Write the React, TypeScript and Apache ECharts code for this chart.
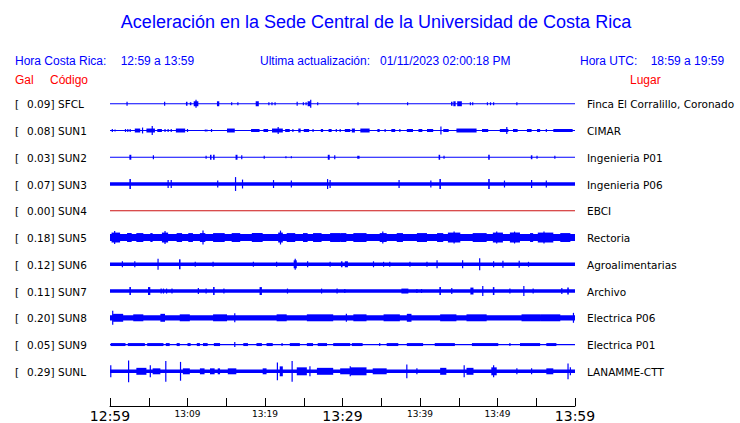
import React, { useEffect, useRef } from 'react';
import * as echarts from 'echarts';

const titleText = 'Aceleración en la Sede Central de la Universidad de Costa Rica';
const headerLabels = ['Hora Costa Rica:', '12:59 a 13:59', 'Ultima actualización:', '01/11/2023 02:00:18 PM', 'Hora UTC:', '18:59 a 19:59'];
const columnHeads = ['Gal', 'Código', 'Lugar'];
const stationCodes = ['SFCL', 'SUN1', 'SUN2', 'SUN3', 'SUN4', 'SUN5', 'SUN6', 'SUN7', 'SUN8', 'SUN9', 'SUNL'];
const galValues = [0.09, 0.08, 0.03, 0.07, 0.0, 0.18, 0.12, 0.11, 0.2, 0.05, 0.29];
const placeNames = ['Finca El Corralillo, Coronado', 'CIMAR', 'Ingenieria P01', 'Ingenieria P06', 'EBCI', 'Rectoria', 'Agroalimentarias', 'Archivo', 'Electrica P06', 'Electrica P01', 'LANAMME-CTT'];
const tickLabels = ['12:59', '13:09', '13:19', '13:29', '13:39', '13:49', '13:59'];

// background (noise) half-amplitude of each trace
const baseAmp = [0.6, 0.6, 0.6, 1.8, 0.5, 3.6, 1.8, 1.8, 2.6, 0.6, 1.8];

// bursts: [start minute, end minute, half-amplitude]
const sfclBursts = [[2.2,2.2,2],[7.0,7.1,2],[9.8,10.0,2],[10.3,10.5,1.5],[10.8,11.4,2.5],[11.1,11.1,4],[13.8,14.1,2.5],[15.7,15.7,1.5],[16.5,16.5,1.5],[18.8,19.2,2.5],[20.5,20.5,1.5],[20.9,20.9,1.5],[21.3,21.3,1.5],[24.1,24.2,2],[24.9,25.0,1.5],[25.3,25.3,1.5],[25.5,25.9,2.5],[25.9,25.9,4],[26.8,26.8,1.5],[32.0,32.0,1.5],[38.4,38.4,1.5],[44.0,44.2,2],[44.3,44.6,2.5],[44.8,45.4,2.5],[46.5,46.5,1.5],[46.8,46.8,1.5],[48.7,48.7,1.5],[49.1,49.1,1.5],[49.5,49.5,1.5],[52.5,52.5,1.5]];
const sun1Bursts = [[0.3,0.3,1.5],[0.65,0.65,1],[2.0,2.0,1.5],[2.3,2.3,1.5],[2.6,2.6,1.5],[3.2,3.9,2],[4.2,4.2,3],[4.7,5.8,2],[5.45,5.45,4.5],[6.1,6.7,1.5],[7.1,7.1,1.5],[7.5,7.5,1.5],[7.9,7.9,1.5],[8.5,9.7,2],[10.0,10.0,1.5],[12.3,12.3,1],[12.5,12.5,1],[13.1,13.1,1.5],[15.1,16.1,2],[18.2,19.3,1.5],[19.8,20.4,1.5],[20.9,22.3,2],[21.7,21.7,3.5],[22.6,23.2,1.5],[23.6,23.6,1.5],[24.3,24.6,2],[25.0,25.7,1.5],[26.2,26.2,1.5],[27.2,27.5,1.5],[28.2,28.6,1.5],[29.2,29.2,1.5],[29.7,29.7,1.5],[30.3,31.0,1.5],[31.2,31.6,2],[32.3,33.5,2],[34.5,34.8,1.5],[35.5,35.5,1.5],[36.3,36.8,1.5],[37.4,37.4,1.5],[38.3,39.1,1.5],[39.8,40.3,1.5],[40.9,41.7,1.5],[42.7,42.7,4],[43.0,43.7,1.5],[44.7,47.3,2],[48.0,48.8,1.5],[50.3,51.4,1.5],[51.2,51.2,3.5],[52.0,52.6,1.5],[53.8,54.4,1.5],[55.1,55.5,1.5],[56.3,56.3,1.5],[57.2,59.7,1.5]];
const sun2Bursts = [[2.5,2.75,2.5],[5.6,5.6,2],[12.4,12.4,1.5],[12.9,13.1,2.5],[13.3,13.5,2.5],[16.2,16.45,2.5],[17.0,17.0,2],[19.9,19.9,1.5],[22.7,22.7,1],[23.4,23.4,1],[28.1,28.35,2.5],[29.0,29.0,2],[31.9,32.2,1.5],[42.4,42.6,2.5],[43.1,43.1,1.5],[48.8,49.0,2.5],[54.3,54.5,2],[55.1,55.1,1.5],[57.4,57.4,1.5]];
const sun3Bursts = [[2.5,2.7,5],[7.5,7.5,4],[7.9,7.9,4],[13.9,13.9,3.5],[16.2,16.2,7],[17.1,17.1,4.5],[21.1,21.1,4],[23.4,23.4,3.5],[28.0,28.15,5],[28.4,28.4,4],[37.3,37.3,4],[41.4,41.4,3.5],[42.5,42.7,5],[48.8,49.0,5],[50.9,50.9,3.5],[54.4,54.4,4],[56.3,56.3,3.5]];
const sun4Bursts: number[][] = [];
const sun5Bursts = [[0.2,1.3,5],[0.6,0.6,6.5],[2.2,2.8,4.5],[3.4,4.3,4.5],[5.2,5.5,4.5],[6.7,7.5,5],[7.1,7.1,6.5],[8.6,9.3,4.5],[10.1,10.7,4.5],[11.6,12.3,4.5],[12.0,12.0,7],[13.3,14.8,4.5],[15.7,16.8,4.5],[18.3,19.7,4.5],[21.7,22.3,5],[22.0,22.0,7],[22.8,23.9,4.5],[24.9,25.5,4.5],[26.2,27.3,4.5],[28.4,29.7,4.5],[29.7,30.5,4.5],[31.4,33.1,4.5],[34.8,35.7,4.5],[35.2,35.2,6],[37.0,37.8,4.5],[39.6,40.9,4.5],[42.2,43.0,4.5],[43.6,45.2,5],[44.4,44.4,6],[46.8,48.6,4.5],[49.4,50.7,5],[49.9,49.9,6],[51.6,52.9,5],[52.2,52.2,6],[54.2,54.6,4.5],[55.2,57.2,5],[56.0,56.0,6],[58.1,59.4,4.5]];
const sun6Bursts = [[1.6,1.6,3],[3.2,3.2,3],[6.2,6.2,5.5],[8.9,9.1,5],[11.0,11.0,2.5],[13.3,13.3,2.5],[18.5,18.5,2.5],[21.5,21.5,2.5],[23.7,24.1,4],[23.9,23.9,5.5],[25.5,25.5,3],[28.4,28.4,2.5],[29.8,30.0,3],[30.3,30.7,3],[34.0,34.0,3],[35.3,35.3,2.5],[36.1,36.1,2.5],[38.7,38.7,2.5],[40.9,40.9,2.5],[42.2,42.2,4],[45.5,45.5,4],[47.7,47.7,6],[49.5,49.5,3],[50.7,50.7,3.5],[52.8,52.8,3.5],[54.0,54.0,2.5]];
const sun7Bursts = [[2.5,2.7,4],[4.9,5.2,4],[6.6,6.6,2.5],[6.9,6.9,2.5],[7.3,7.3,2.5],[8.0,8.0,2.5],[11.4,11.4,3],[12.4,12.4,2.5],[13.3,13.5,4],[14.7,14.7,2.5],[19.3,19.6,4],[22.9,22.9,2.5],[27.3,27.3,2.5],[29.3,29.3,2.5],[30.3,30.3,2],[37.6,38.5,2.5],[39.6,39.6,2],[40.2,40.2,2],[42.5,42.7,4],[44.1,44.1,3],[46.5,46.9,3.5],[48.1,48.1,5],[49.4,49.6,4],[51.6,51.6,2.5],[53.4,53.4,5],[54.6,54.6,2.5],[58.3,58.3,3],[59.0,59.2,3.5]];
const sun8Bursts = [[0.35,0.35,7],[0.4,1.7,4],[3.0,4.3,3.5],[6.5,7.1,4],[9.0,10.3,3.5],[13.3,15.1,3.5],[16.1,16.1,4.5],[21.5,22.8,3.5],[25.4,28.8,3.5],[30.5,30.5,4],[31.4,33.1,3.5],[35.3,37.4,3.5],[38.3,38.9,4],[42.6,44.7,3.5],[46.0,48.6,3.5],[53.1,55.5,3.5],[55.5,58.1,3.5],[59.8,59.8,5]];
const sun9Bursts = [[0.1,2.0,1.5],[2.3,4.5,1.5],[4.8,6.9,1.5],[7.2,7.7,1.5],[8.6,9.0,1.5],[10.0,10.4,1.5],[11.2,11.6,1.5],[12.0,12.6,1.5],[13.4,14.2,1.5],[16.1,16.1,2.5],[17.2,17.8,1.5],[18.9,19.6,1.5],[20.2,21.0,1.5],[22.2,22.2,1.5],[23.2,24.5,1.5],[25.4,26.2,1.5],[26.8,28.0,1.5],[28.8,31.0,1.5],[31.2,32.6,1.5],[34.8,34.8,1.5],[35.7,37.2,1.5],[38.3,40.4,1.5],[41.9,44.5,1.5],[46.7,50.1,1.5],[51.6,51.6,1.5],[52.9,55.5,1.5],[56.3,57.6,1.5]];
const sunlBursts = [[0.1,0.1,6],[2.4,2.4,11],[3.4,4.7,3.5],[5.2,5.2,6],[5.5,6.5,3],[7.2,7.2,10.5],[9.1,9.1,9.5],[9.4,10.3,3],[11.6,12.2,3],[12.9,13.5,3],[13.9,14.2,3],[15.2,16.3,3],[19.7,20.2,3],[21.6,21.6,9],[21.9,22.3,5],[23.5,23.5,10.5],[24.1,25.4,4],[25.8,25.8,5],[26.7,28.8,3.5],[29.7,31.0,3],[31.0,31.0,5],[31.0,33.1,4],[33.9,35.7,3],[38.3,38.3,7],[39.6,39.6,3],[42.6,43.4,3.5],[45.7,45.7,6],[46.0,46.9,3.5],[49.2,49.9,4],[49.5,49.5,6],[52.5,52.5,3],[54.4,54.4,3],[56.3,57.2,3],[59.1,59.1,8],[59.4,59.4,4]];

const bursts = [sfclBursts, sun1Bursts, sun2Bursts, sun3Bursts, sun4Bursts, sun5Bursts, sun6Bursts, sun7Bursts, sun8Bursts, sun9Bursts, sunlBursts];

const ROW_GAP = 27;
const BLUE = '#0000ff';
const RED = '#ff0000';
const TRACE_RED = '#cc1111';

export default function App() {
  const ref = useRef<HTMLDivElement>(null);
  useEffect(() => {
    if (!ref.current) return;
    const chart = echarts.init(ref.current, undefined, { renderer: 'svg' });
    const series = stationCodes.map((code, i) => {
      const center = i * ROW_GAP;
      const color = code === 'SUN4' ? TRACE_RED : BLUE;
      return {
        type: 'custom',
        name: code,
        data: [[0, 60, baseAmp[i]], ...bursts[i]],
        renderItem: (params: any, api: any) => {
          const t0 = api.value(0);
          const t1 = api.value(1);
          const a = api.value(2);
          const p0 = api.coord([t0, center - a]);
          const p1 = api.coord([t1, center + a]);
          let x = p0[0];
          let w = p1[0] - p0[0];
          if (w < 1.2) { x = x - (1.2 - w) / 2; w = 1.2; }
          const y = Math.min(p0[1], p1[1]);
          const h = Math.max(Math.abs(p1[1] - p0[1]), 1);
          return { type: 'rect', shape: { x, y, width: w, height: h }, style: { fill: color } };
        },
      };
    });
    chart.setOption({
      animation: false,
      backgroundColor: '#ffffff',
      grid: { left: 110, right: 165, top: 77, bottom: 14 },
      xAxis: {
        type: 'value', min: 0, max: 60, interval: 5,
        axisLine: { show: true, onZero: false, lineStyle: { color: '#000', width: 1 } },
        axisTick: { show: true, inside: true, length: 8, lineStyle: { color: '#000', width: 1 } },
        splitLine: { show: false },
        axisLabel: {
          margin: 3, showMinLabel: true, showMaxLabel: true,
          formatter: (v: number) => {
            if (v % 10 !== 0) return '';
            const lab = tickLabels[v / 10];
            return v % 30 === 0 ? `{big|${lab}}` : `{small|${lab}}`;
          },
          rich: {
            big: { fontSize: 14, fontFamily: 'DejaVu Sans', color: '#000' },
            small: { fontSize: 9, fontFamily: 'DejaVu Sans', color: '#000' },
          },
        },
      },
      yAxis: { type: 'value', inverse: true, min: -27, max: 305, show: false, splitLine: { show: false } },
      series,
    });
    const graphics: any[] = [];
    const txt = (text: string, x: number, y: number, fill: string, size: number, family: string, align = 'left') => ({
      type: 'text', x, y,
      style: { text, fill, fontSize: size, fontFamily: family, textAlign: align, textVerticalAlign: 'middle' },
    });
    graphics.push(txt(titleText, 376, 22, BLUE, 18, 'Liberation Sans', 'center'));
    const hx = [15, 120.7, 260, 380, 580, 650.7];
    headerLabels.forEach((h, k) => graphics.push(txt(h, hx[k], 61, BLUE, 12, 'Liberation Sans')));
    const cx = [15, 50, 630];
    columnHeads.forEach((h, k) => graphics.push(txt(h, cx[k], 80, RED, 12, 'Liberation Sans')));
    stationCodes.forEach((code, i) => {
      const y = chart.convertToPixel({ xAxisIndex: 0, yAxisIndex: 0 }, [0, i * ROW_GAP])[1] + 0.5;
      graphics.push(txt('[', 15, y, '#000', 10.5, 'DejaVu Sans'));
      graphics.push(txt(galValues[i].toFixed(2) + ']', 27, y, '#000', 10.5, 'DejaVu Sans'));
      graphics.push(txt(code, 58, y, '#000', 10.5, 'DejaVu Sans'));
      graphics.push(txt(placeNames[i], 587, y, '#000', 10.5, 'DejaVu Sans'));
    });
    chart.setOption({ graphic: graphics });
    return () => chart.dispose();
  }, []);
  return <div ref={ref} style={{ position: 'fixed', left: 0, top: 0, width: 740, height: 423, background: '#fff' }} />;
}
